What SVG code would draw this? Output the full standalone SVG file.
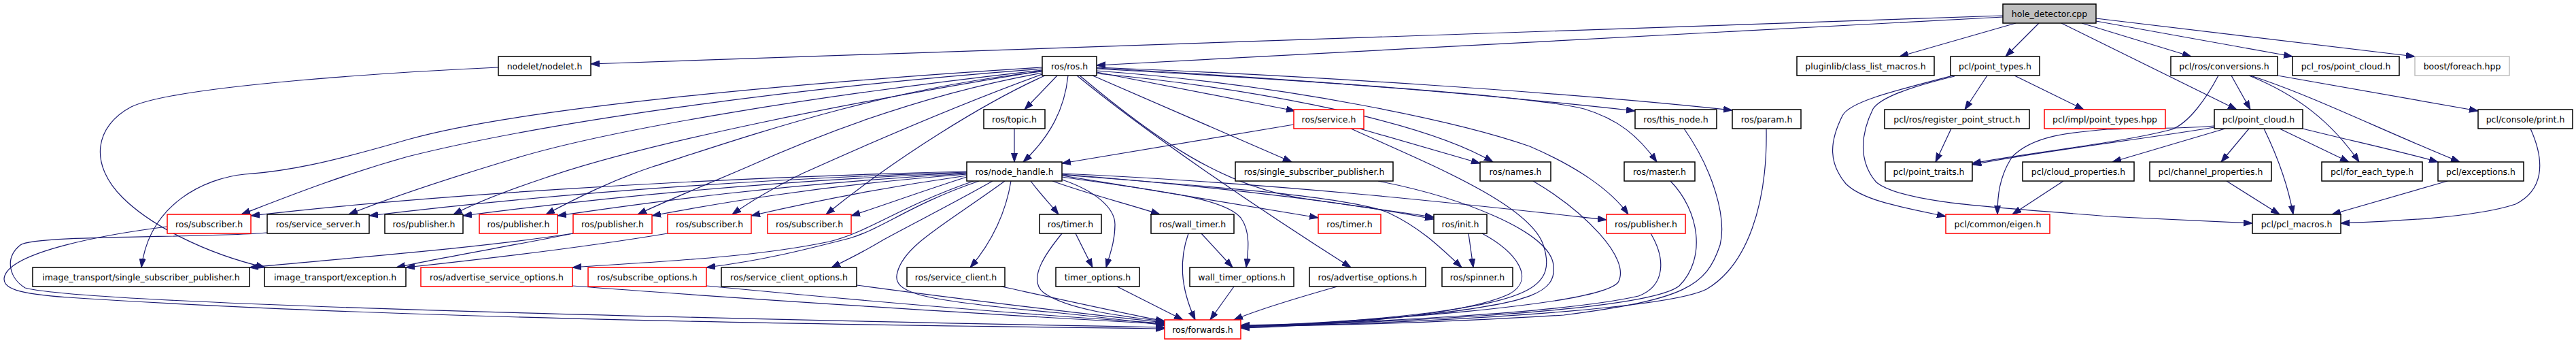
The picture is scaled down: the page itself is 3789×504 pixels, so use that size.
<svg xmlns="http://www.w3.org/2000/svg" width="3789" height="504" viewBox="0 0 3789 504">
<style>
.e{fill:none;stroke:#191970;stroke-width:1.2;marker-end:url(#ah)}
.n rect{fill:#ffffff;stroke:#000000;stroke-width:1.5}
.r rect{fill:#ffffff;stroke:#ff0000;stroke-width:1.5}
.g rect{fill:#ffffff;stroke:#bfbfbf;stroke-width:1.5}
.root rect{fill:#bfbfbf;stroke:#000000;stroke-width:1.5}
text{font-family:"DejaVu Sans","Liberation Sans",sans-serif;font-size:12.5px;fill:#000000;text-anchor:middle}
</style>
<defs>
<marker id="ah" markerUnits="userSpaceOnUse" markerWidth="14" markerHeight="10" refX="13" refY="5" orient="auto">
<path d="M0,0.5 L13,5 L0,9.5 z" fill="#191970" stroke="#191970" stroke-width="1"/>
</marker>
</defs>
<rect width="3789" height="504" fill="#ffffff"/>
<g id="connectors">
<!-- hole_detector.cpp -->
<path class="e" d="M2946,23 L869,94"/>
<path class="e" d="M2946,25 L1613,96"/>
<path class="e" d="M2965,34 L2794,83"/>
<path class="e" d="M2999,34 L2950,83"/>
<path class="e" d="M3032,34 L3290,161"/>
<path class="e" d="M3062,34 L3223,83"/>
<path class="e" d="M3083,31 L3372,83"/>
<path class="e" d="M3083,27 L3552,83"/>
<!-- nodelet -->
<path class="e" d="M733,99 C600,105 260,125 193,157 C140,185 130,240 180,290 C220,330 300,372 390,393"/>
<!-- ros/ros.h left fan -->
<path class="e" d="M1533,99 C1150,123 760,160 600,205 C480,240 420,252 360,256 C300,262 220,300 208,393"/>
<path class="e" d="M1533,101 C1150,130 800,180 600,230 C500,258 420,290 355,315"/>
<path class="e" d="M1533,103 C1200,140 900,190 760,232 C650,265 570,292 513,315"/>
<path class="e" d="M1533,104 C1250,150 950,210 800,262 C740,282 700,298 667,315"/>
<path class="e" d="M1533,105 C1300,130 1100,200 960,245 C900,265 850,290 803,315"/>
<path class="e" d="M1533,107 C1350,140 1200,200 1100,245 C1030,275 980,295 938,315"/>
<path class="e" d="M1533,109 C1420,150 1280,210 1180,255 C1140,275 1105,295 1077,315"/>
<path class="e" d="M1537,111 C1450,150 1320,230 1215,315"/>
<!-- ros/ros.h down/right -->
<path class="e" d="M1555,111 L1507,161"/>
<path class="e" d="M1571,111 C1566,160 1545,200 1505,238"/>
<path class="e" d="M1613,106 L1905,163"/>
<path class="e" d="M1607,111 L1900,238"/>
<path class="e" d="M1613,108 C1800,125 2080,170 2196,238"/>
<path class="e" d="M1613,100 C1900,115 2200,140 2405,163"/>
<path class="e" d="M1613,101 C1900,117 2250,140 2330,160 C2380,175 2410,200 2437,238"/>
<path class="e" d="M1613,99 C1900,110 2300,135 2548,162"/>
<path class="e" d="M1613,104 C1900,125 2150,180 2250,215 C2320,245 2370,280 2395,315"/>
<path class="e" d="M1588,111 C1700,205 1800,275 1920,292 C2000,303 2060,312 2109,319"/>
<path class="e" d="M1584,111 C1680,190 1840,300 1987,393"/>
<!-- ros/topic.h, ros/service.h -->
<path class="e" d="M1492,189 L1492,238"/>
<path class="e" d="M1903,183 L1562,240"/>
<path class="e" d="M2000,189 L2177,240"/>
<path class="e" d="M1987,189 C2100,240 2250,300 2270,360 C2290,420 2250,440 2100,460 C2000,472 1900,478 1825,480"/>
<!-- ros/node_handle.h left flat -->
<path class="e" d="M1422,252 C1000,262 600,290 369,317"/>
<path class="e" d="M1422,253 C1050,265 750,292 543,317"/>
<path class="e" d="M1422,254 C1100,267 850,295 681,317"/>
<path class="e" d="M1422,255 C1150,270 950,298 820,317"/>
<path class="e" d="M1422,256 C1200,273 1050,300 959,317"/>
<path class="e" d="M1422,258 C1280,278 1170,302 1105,317"/>
<path class="e" d="M1422,260 C1350,283 1290,305 1252,317"/>
<!-- ros/node_handle.h down -->
<path class="e" d="M1432,266 C1320,305 1280,340 1220,355 C1100,380 950,385 842,393"/>
<path class="e" d="M1440,266 C1340,300 1300,335 1250,350 C1180,368 1120,383 1039,393"/>
<path class="e" d="M1460,266 C1400,300 1340,330 1300,352 C1270,370 1250,380 1223,393"/>
<path class="e" d="M1487,266 C1480,310 1460,355 1427,393"/>
<path class="e" d="M1478,266 C1390,330 1330,360 1320,400 C1310,432 1360,442 1560,460 C1640,468 1690,475 1713,478"/>
<path class="e" d="M1516,266 C1530,285 1545,300 1557,315"/>
<path class="e" d="M1548,266 C1600,285 1660,300 1706,315"/>
<path class="e" d="M1562,264 C1610,280 1640,305 1640,330 C1640,355 1632,375 1627,393"/>
<path class="e" d="M1562,260 C1700,280 1800,290 1825,320 C1840,340 1836,370 1833,393"/>
<path class="e" d="M1562,258 C1700,280 1850,305 1939,320"/>
<path class="e" d="M1562,256 C1800,275 2000,300 2109,322"/>
<path class="e" d="M1562,257 C1800,275 1990,290 2043,313 C2090,335 2120,365 2150,393"/>
<path class="e" d="M1562,255 C1900,270 2200,305 2363,323"/>
<!-- row 4 / row 3 to forwards -->
<path class="e" d="M2027,266 C2150,290 2280,340 2285,390 C2290,430 2250,445 2100,462 C2000,472 1900,478 1825,481"/>
<path class="e" d="M2255,266 C2330,310 2400,380 2380,415 C2350,450 2000,472 1825,480"/>
<path class="e" d="M2457,266 C2500,310 2510,380 2470,420 C2420,460 2000,475 1825,479"/>
<path class="e" d="M2477,189 C2520,250 2540,320 2530,360 C2510,420 2480,440 2300,463 C2100,475 1950,479 1825,479"/>
<path class="e" d="M2598,189 C2600,300 2570,390 2510,425 C2450,455 2100,475 1825,480"/>
<!-- row 5 -->
<path class="e" d="M246,333 C150,345 20,370 7,405 C0,425 30,432 100,437 C600,470 1300,478 1713,483"/>
<path class="e" d="M393,342 C300,350 50,345 30,360 C5,380 15,410 37,423 C100,440 600,460 1713,481"/>
<path class="e" d="M843,343 C700,365 500,380 367,393"/>
<path class="e" d="M843,343 C760,360 650,378 583,393"/>
<path class="e" d="M982,343 C850,365 700,382 597,393"/>
<path class="e" d="M1562,343 C1540,370 1510,410 1535,430 C1570,455 1650,465 1713,472"/>
<path class="e" d="M1582,343 L1607,393"/>
<path class="e" d="M1748,343 C1735,380 1735,420 1758,470"/>
<path class="e" d="M1767,343 L1813,393"/>
<path class="e" d="M2160,343 L2167,393"/>
<path class="e" d="M2180,343 C2230,370 2260,410 2220,432 C2150,465 1950,478 1825,482"/>
<path class="e" d="M2428,343 C2450,380 2450,420 2410,435 C2300,460 2000,475 1825,478"/>
<!-- row 6 -->
<path class="e" d="M842,420 C1100,440 1500,465 1713,476"/>
<path class="e" d="M1039,420 C1300,445 1550,465 1713,475"/>
<path class="e" d="M1260,419 C1400,438 1600,462 1713,474"/>
<path class="e" d="M1473,421 C1560,440 1650,460 1713,472"/>
<path class="e" d="M1643,421 L1740,470"/>
<path class="e" d="M1815,421 L1780,470"/>
<path class="e" d="M1967,421 C1900,440 1850,455 1815,470"/>
<!-- pcl -->
<path class="e" d="M2923,111 L2890,161"/>
<path class="e" d="M2963,111 L3065,161"/>
<path class="e" d="M2873,111 C2780,135 2720,150 2710,170 C2690,210 2690,240 2715,270 C2740,295 2800,305 2862,318"/>
<path class="e" d="M2875,112 C2800,130 2765,145 2755,160 C2735,200 2735,240 2760,268 C2800,300 2950,305 3100,318 C3200,323 3260,326 3313,328"/>
<path class="e" d="M2870,189 L2847,238"/>
<path class="e" d="M3263,111 C3245,145 3220,180 3195,190 C3120,210 2980,225 2901,240"/>
<path class="e" d="M3257,187 C3150,205 3000,222 2901,242"/>
<path class="e" d="M3282,111 L3310,161"/>
<path class="e" d="M3308,111 C3380,140 3430,180 3470,238"/>
<path class="e" d="M3310,111 C3400,140 3500,190 3618,238"/>
<path class="e" d="M3350,111 L3645,163"/>
<path class="e" d="M3257,185 C3200,190 3150,188 3100,190 C3040,195 2990,200 2960,230 C2940,260 2938,290 2938,315"/>
<path class="e" d="M3273,189 L3107,238"/>
<path class="e" d="M3308,189 L3267,238"/>
<path class="e" d="M3330,189 C3350,230 3365,270 3373,315"/>
<path class="e" d="M3353,189 L3455,238"/>
<path class="e" d="M3387,189 C3450,205 3530,222 3586,238"/>
<path class="e" d="M3035,266 L2960,315"/>
<path class="e" d="M3275,266 L3353,315"/>
<path class="e" d="M3600,266 L3430,315"/>
<path class="e" d="M3722,189 C3745,240 3740,280 3700,300 C3640,320 3520,325 3443,328"/>
</g>
<g id="n_hole" class="root"><rect x="2946" y="6" width="137" height="28"/><text x="3014.5" y="25">hole_detector.cpp</text></g>
<g id="n_nodelet" class="n"><rect x="733" y="83" width="136" height="28"/><text x="801" y="102">nodelet/nodelet.h</text></g>
<g id="n_ros_ros" class="n"><rect x="1533" y="83" width="80" height="28"/><text x="1573" y="102">ros/ros.h</text></g>
<g id="n_pluginlib" class="n"><rect x="2643" y="83" width="202" height="28"/><text x="2744" y="102">pluginlib/class_list_macros.h</text></g>
<g id="n_pcl_point_types" class="n"><rect x="2869" y="83" width="131" height="28"/><text x="2934.5" y="102">pcl/point_types.h</text></g>
<g id="n_pcl_conversions" class="n"><rect x="3193" y="83" width="157" height="28"/><text x="3271.5" y="102">pcl/ros/conversions.h</text></g>
<g id="n_pcl_ros_point_cloud" class="n"><rect x="3372" y="83" width="157" height="28"/><text x="3450.5" y="102">pcl_ros/point_cloud.h</text></g>
<g id="n_boost_foreach" class="g"><rect x="3552" y="83" width="139" height="28"/><text x="3621.5" y="102">boost/foreach.hpp</text></g>
<g id="n_ros_topic" class="n"><rect x="1447" y="161" width="90" height="28"/><text x="1492" y="180">ros/topic.h</text></g>
<g id="n_ros_service" class="r"><rect x="1903" y="161" width="103" height="28"/><text x="1954.5" y="180">ros/service.h</text></g>
<g id="n_ros_this_node" class="n"><rect x="2405" y="161" width="120" height="28"/><text x="2465" y="180">ros/this_node.h</text></g>
<g id="n_ros_param" class="n"><rect x="2548" y="161" width="101" height="28"/><text x="2598.5" y="180">ros/param.h</text></g>
<g id="n_pcl_register" class="n"><rect x="2772" y="161" width="213" height="28"/><text x="2878.5" y="180">pcl/ros/register_point_struct.h</text></g>
<g id="n_pcl_impl_point_types" class="r"><rect x="3007" y="161" width="178" height="28"/><text x="3096" y="180">pcl/impl/point_types.hpp</text></g>
<g id="n_pcl_point_cloud" class="n"><rect x="3257" y="161" width="130" height="28"/><text x="3322" y="180">pcl/point_cloud.h</text></g>
<g id="n_pcl_print" class="n"><rect x="3645" y="161" width="139" height="28"/><text x="3714.5" y="180">pcl/console/print.h</text></g>
<g id="n_ros_node_handle" class="n"><rect x="1422" y="238" width="140" height="28"/><text x="1492" y="257">ros/node_handle.h</text></g>
<g id="n_ros_ssp" class="n"><rect x="1817" y="238" width="232" height="28"/><text x="1933" y="257">ros/single_subscriber_publisher.h</text></g>
<g id="n_ros_names" class="n"><rect x="2177" y="238" width="104" height="28"/><text x="2229" y="257">ros/names.h</text></g>
<g id="n_ros_master" class="n"><rect x="2389" y="238" width="104" height="28"/><text x="2441" y="257">ros/master.h</text></g>
<g id="n_pcl_point_traits" class="n"><rect x="2773" y="238" width="128" height="28"/><text x="2837" y="257">pcl/point_traits.h</text></g>
<g id="n_pcl_cloud_properties" class="n"><rect x="2975" y="238" width="164" height="28"/><text x="3057" y="257">pcl/cloud_properties.h</text></g>
<g id="n_pcl_channel_properties" class="n"><rect x="3162" y="238" width="179" height="28"/><text x="3251.5" y="257">pcl/channel_properties.h</text></g>
<g id="n_pcl_for_each_type" class="n"><rect x="3415" y="238" width="148" height="28"/><text x="3489" y="257">pcl/for_each_type.h</text></g>
<g id="n_pcl_exceptions" class="n"><rect x="3586" y="238" width="126" height="28"/><text x="3649" y="257">pcl/exceptions.h</text></g>
<g id="n_ros_subscriber_1" class="r"><rect x="246" y="315" width="123" height="28"/><text x="307.5" y="334">ros/subscriber.h</text></g>
<g id="n_ros_service_server" class="n"><rect x="393" y="315" width="150" height="28"/><text x="468" y="334">ros/service_server.h</text></g>
<g id="n_ros_publisher_1" class="n"><rect x="566" y="315" width="115" height="28"/><text x="623.5" y="334">ros/publisher.h</text></g>
<g id="n_ros_publisher_2" class="r"><rect x="705" y="315" width="115" height="28"/><text x="762.5" y="334">ros/publisher.h</text></g>
<g id="n_ros_publisher_3" class="r"><rect x="843" y="315" width="116" height="28"/><text x="901" y="334">ros/publisher.h</text></g>
<g id="n_ros_subscriber_2" class="r"><rect x="982" y="315" width="123" height="28"/><text x="1043.5" y="334">ros/subscriber.h</text></g>
<g id="n_ros_subscriber_3" class="r"><rect x="1129" y="315" width="123" height="28"/><text x="1190.5" y="334">ros/subscriber.h</text></g>
<g id="n_ros_timer_1" class="n"><rect x="1529" y="315" width="91" height="28"/><text x="1574.5" y="334">ros/timer.h</text></g>
<g id="n_ros_wall_timer" class="n"><rect x="1693" y="315" width="122" height="28"/><text x="1754" y="334">ros/wall_timer.h</text></g>
<g id="n_ros_timer_2" class="r"><rect x="1939" y="315" width="92" height="28"/><text x="1985" y="334">ros/timer.h</text></g>
<g id="n_ros_init" class="n"><rect x="2109" y="315" width="78" height="28"/><text x="2148" y="334">ros/init.h</text></g>
<g id="n_ros_publisher_4" class="r"><rect x="2363" y="315" width="116" height="28"/><text x="2421" y="334">ros/publisher.h</text></g>
<g id="n_pcl_eigen" class="r"><rect x="2862" y="315" width="153" height="28"/><text x="2938.5" y="334">pcl/common/eigen.h</text></g>
<g id="n_pcl_macros" class="n"><rect x="3313" y="315" width="130" height="28"/><text x="3378" y="334">pcl/pcl_macros.h</text></g>
<g id="n_it_ssp" class="n"><rect x="48" y="393" width="319" height="28"/><text x="207.5" y="412">image_transport/single_subscriber_publisher.h</text></g>
<g id="n_it_exception" class="n"><rect x="389" y="393" width="208" height="28"/><text x="493" y="412">image_transport/exception.h</text></g>
<g id="n_ros_adv_srv_opts" class="r"><rect x="619" y="393" width="223" height="28"/><text x="730.5" y="412">ros/advertise_service_options.h</text></g>
<g id="n_ros_sub_opts" class="r"><rect x="865" y="393" width="174" height="28"/><text x="952" y="412">ros/subscribe_options.h</text></g>
<g id="n_ros_srv_client_opts" class="n"><rect x="1061" y="393" width="199" height="28"/><text x="1160.5" y="412">ros/service_client_options.h</text></g>
<g id="n_ros_srv_client" class="n"><rect x="1334" y="393" width="144" height="28"/><text x="1406" y="412">ros/service_client.h</text></g>
<g id="n_timer_opts" class="n"><rect x="1553" y="393" width="123" height="28"/><text x="1614.5" y="412">timer_options.h</text></g>
<g id="n_wall_timer_opts" class="n"><rect x="1750" y="393" width="153" height="28"/><text x="1826.5" y="412">wall_timer_options.h</text></g>
<g id="n_ros_adv_opts" class="n"><rect x="1926" y="393" width="171" height="28"/><text x="2011.5" y="412">ros/advertise_options.h</text></g>
<g id="n_ros_spinner" class="n"><rect x="2121" y="393" width="104" height="28"/><text x="2173" y="412">ros/spinner.h</text></g>
<g id="n_ros_forwards" class="r"><rect x="1713" y="470" width="112" height="28"/><text x="1769" y="489">ros/forwards.h</text></g>
</svg>
